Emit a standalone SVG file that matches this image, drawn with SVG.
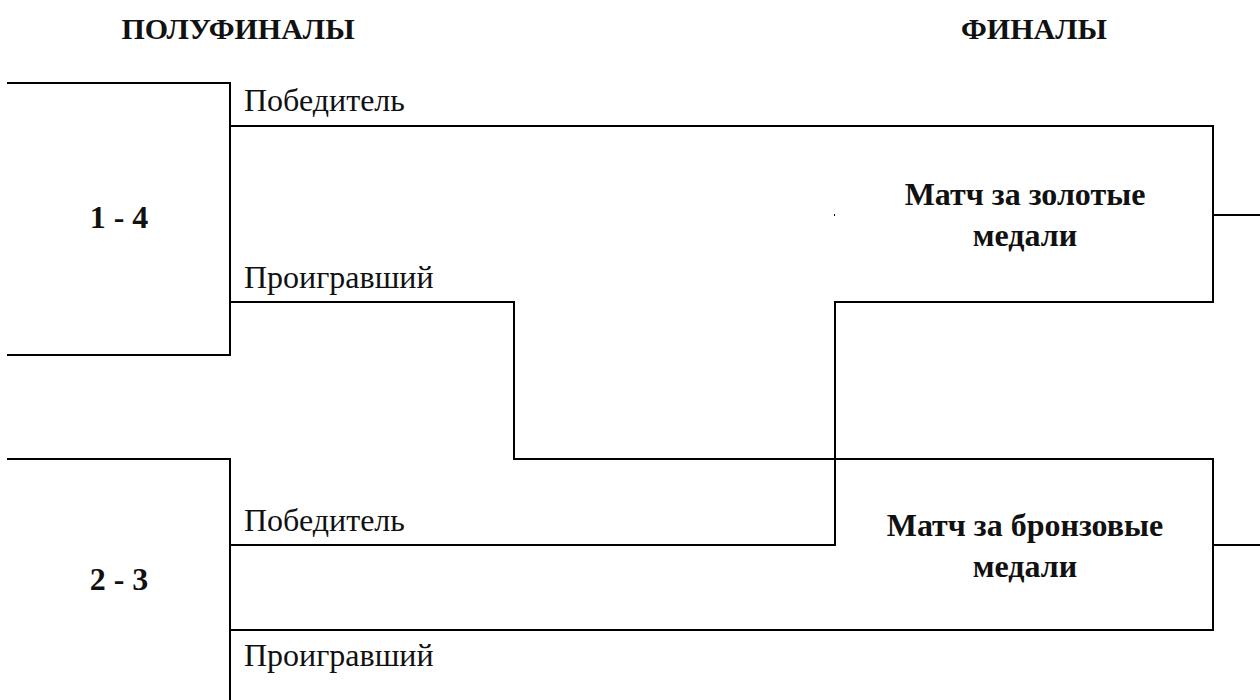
<svg xmlns="http://www.w3.org/2000/svg" width="1260" height="700" viewBox="0 0 1260 700">
<style>
.ln{fill:none;stroke:#000;stroke-width:2;stroke-linecap:square}
.h{font-family:"Liberation Serif","Times New Roman",serif;font-weight:bold;font-size:30px;fill:#111;text-anchor:middle}
.b{font-family:"Liberation Serif","Times New Roman",serif;font-weight:bold;font-size:32px;fill:#111;text-anchor:middle}
.r{font-family:"Liberation Serif","Times New Roman",serif;font-size:32px;fill:#111}
</style>
<rect width="1260" height="700" fill="#fff"/>
<g id="headers">
<text class="h" x="238" y="39">ПОЛУФИНАЛЫ</text>
<text class="h" x="1034" y="39">ФИНАЛЫ</text>
</g>
<g id="connectors">
<polyline class="ln" points="8,83 230,83 230,355 8,355"/>
<line class="ln" x1="230" y1="126" x2="1213" y2="126"/>
<polyline class="ln" points="230,302 514,302 514,459 1213,459"/>
<polyline class="ln" points="230,545 835,545 835,302 1213,302"/>
<line class="ln" x1="1213" y1="126" x2="1213" y2="302"/>
<line class="ln" x1="1213" y1="459" x2="1213" y2="630"/>
<line class="ln" x1="1213" y1="215" x2="1260" y2="215"/>
<line class="ln" x1="1213" y1="545" x2="1260" y2="545"/>
<polyline class="ln" points="8,459 230,459 230,700"/>
<line class="ln" x1="230" y1="630" x2="1213" y2="630"/>
<rect x="834" y="214" width="1" height="2" fill="#000"/>
</g>
<g id="semi1">
<text class="b" x="119" y="228">1 - 4</text>
<text class="r" x="244" y="111">Победитель</text>
<text class="r" x="244" y="288">Проигравший</text>
</g>
<g id="semi2">
<text class="b" x="119" y="590">2 - 3</text>
<text class="r" x="244" y="531">Победитель</text>
<text class="r" x="244" y="666">Проигравший</text>
</g>
<g id="gold">
<text class="b" x="1025" y="205">Матч за золотые</text>
<text class="b" x="1025" y="246">медали</text>
</g>
<g id="bronze">
<text class="b" x="1025" y="536">Матч за бронзовые</text>
<text class="b" x="1025" y="577">медали</text>
</g>
</svg>
